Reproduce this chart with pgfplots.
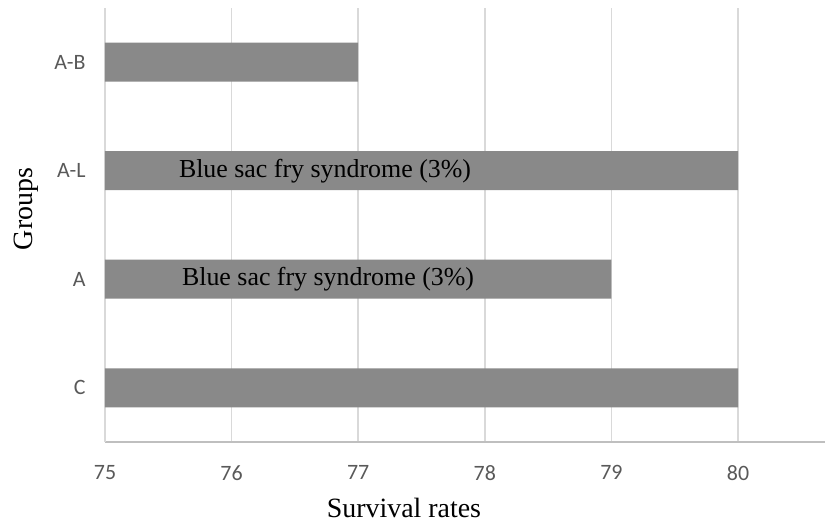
\documentclass[border=0pt]{standalone}
\usepackage{pgfplots}
\pgfplotsset{compat=1.18}
\usepackage{fontspec}
\setmainfont{Liberation Serif}
\newfontfamily\tickfont{Carlito}
\definecolor{barc}{HTML}{898989}
\definecolor{gridc}{HTML}{D9D9D9}
\definecolor{axc}{HTML}{BFBFBF}
\definecolor{tickc}{HTML}{595959}
\begin{document}
\begin{tikzpicture}
\begin{axis}[
  scale only axis,
  width=720bp, height=434bp,
  xmin=75, xmax=80.687,
  ymin=-0.5, ymax=3.5,
  xbar, bar width=39bp,
  axis x line*=bottom, axis y line*=left,
  x axis line style={draw=axc, line width=1.5bp},
  y axis line style={draw=gridc, line width=1.5bp},
  xtick={75,76,77,78,79,80},
  ytick={0,1,2,3},
  yticklabels={C,A,A-L,A-B},
  major tick length=0pt,
  tick style={draw=none},
  xmajorgrids, major grid style={draw=gridc, line width=1.5bp},
  /pgf/number format/assume math mode=true,
  ticklabel style={font=\tickfont\fontsize{22}{25}\selectfont, text=tickc},
  xticklabel style={yshift=-20bp},
  yticklabel style={xshift=-16bp},
  xlabel={Survival rates},
  ylabel={Groups},
  label style={font=\fontsize{28}{32}\selectfont},
  xlabel style={at={(rel axis cs:0.4153,0)}, anchor=base, yshift=-75bp},
  ylabel style={at={(rel axis cs:-0.1,0.537)}, anchor=base},
  clip=true,
]
\addplot[fill=barc, draw=none] coordinates {(80,0) (79,1) (80,2) (77,3)};
\node[font=\fontsize{26}{30}\selectfont] at (axis cs:76.738,2) {Blue sac fry syndrome (3\%)};
\node[font=\fontsize{26}{30}\selectfont] at (axis cs:76.762,1) {Blue sac fry syndrome (3\%)};
\end{axis}
\path[use as bounding box] (current axis.south west) ++(-105bp,-82bp) rectangle ++(828bp,524bp);
\end{tikzpicture}
\end{document}
